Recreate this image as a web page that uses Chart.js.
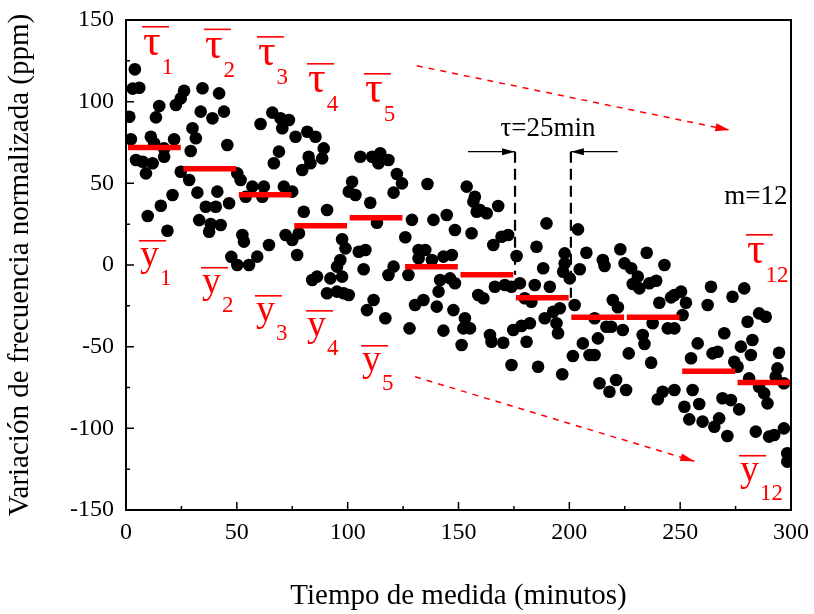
<!DOCTYPE html>
<html>
<head>
<meta charset="utf-8">
<script src="https://cdn.jsdelivr.net/npm/chart.js@4.4.0/dist/chart.umd.min.js"></script>
<style>
  html, body { margin: 0; padding: 0; background: #fff; }
  #wrap { width: 814px; height: 614px; }
</style>
</head>
<body>
<div id="wrap"><canvas id="chart" width="814" height="614"></canvas></div>
<script>
// ── Data ───────────────────────────────────────────────────────────────────────

// measured points: time (min) and frequency deviation (ppm)
const timeMin = [
  1.5, 2.2, 3, 4, 4.5, 6, 7.5, 9, 9.8, 11.2, 12, 12.7, 13.5, 15, 15.7, 17.2, 17.2, 18.7, 21, 21.7, 22.5, 24.7, 24.7,
  26.2, 28.5, 29.2, 30, 31.5, 32.2, 33, 33.7, 34.5, 36, 37.5, 38.2, 39, 40.5, 41.2, 42, 42.7, 44.2, 45.7, 46.5, 47.5,
  50.2, 50.2, 51.7, 52.5, 53.2, 54, 55.5, 57, 59.2, 60.7, 61.5, 62.2, 64.5, 66, 66.7, 69, 69.7, 70.5, 71.2, 72, 73.5,
  75, 75, 76.5, 77.2, 78, 79.5, 80.2, 81.8, 82.4, 83.2, 84, 85.5, 86.2, 88.5, 89.2, 90.7, 90.7, 92.2, 95.2, 95.2, 96.7, 97.5, 97.5, 98.2, 99,
  100.5, 100.5, 102, 103.5, 105, 105.7, 107.2, 108, 108.7, 110.2, 111, 111.7, 113.2, 113.9, 114.7, 117, 118.4, 118.4, 120.7, 120.7, 122.2, 124.5,
  126, 127.4, 127.9, 129, 130.4, 132, 132, 134.2, 135, 136, 138, 138.7, 140.2, 141, 141.7, 143.2, 143.2, 144.7, 146.2, 147, 147.7, 148.4, 148.4,
  151.4, 152.2, 152.9, 153.7, 155.2, 155.9, 156.7, 157.4, 158.2, 158.9, 159.7, 161.2, 162.7, 164.2, 164.9, 165.7, 166.4, 167.9, 169.4, 170.2, 170.9, 172.4, 173.9, 173.9, 174.7,
  176.2, 177.7, 178.4, 179.9, 180.7, 182.2, 182.9, 184.4, 185.2, 185.9, 188.2, 188.9, 189.7, 191.2, 192.7, 194.2, 194.9, 195.7, 196.8, 197.2, 197.9, 197.9,
  200.2, 201.6, 202.4, 203.9, 204.7, 206.1, 207.7, 209.1, 211.4, 211.4, 212.9, 213.6, 215.1, 215.9, 216.7, 218.1, 218.9, 219.6, 221.1, 221.9, 223, 224.1, 224.9,
  225.6, 226.8, 227.9, 228.6, 230.9, 231.6, 233.1, 233.9, 234.9, 236.1, 236.9, 237.6, 239.2, 239.9, 240.6, 242.1, 242.9, 244.4, 245.9, 247.4, 247.4, 247.4,
  250.4, 251.1, 251.9, 252.6, 254.1, 254.9, 255.6, 257.9, 258.6, 260.1, 262.4, 263.9, 264.6, 265.4, 266.9, 267.6, 269.1, 269.9, 271.3, 272.9, 273.6, 274.4,
  275.9, 276.6, 277.4, 278.9, 280.4, 281.1, 281.9, 282.6, 284.1, 285.6, 285.6, 287.9, 288.6, 289.4, 290.1, 292.4, 293.1, 293.9, 294.6, 296.8, 296.8, 298.3, 298.3
];
const freqPpm = [
  90.8, 77, 108, 119.8, 64.3, 108.5, 63.2, 56.1, 30, 78.5, 62.3, 74.5, 90.4, 97.3, 36.3, 71.4, 66.3, 21, 42.9, 77, 98, 102, 57.1,
  106.7, 52, 69.8, 83.7, 77.6, 44.3, 27.5, 93.9, 108.2, 35.7, 20.4, 25.1, 89.8, 35.7, 44.9, 105.1, 24.5, 93.9, 73.5, 37.8, 5,
  56.1, 0, 52, 18.4, 14.3, 41.8, 0, 48, 5.1, 86.3, 41.8, 48, 12.2, 93.3, 62.3, 69.4, 89.8, 83.7, 48, 18.4, 88.8,
  15.3, 44.9, 78.5, 6.1, 19.4, 58.2, 32.6, 81.6, 66.3, 62.3, -9.2, 78.5, -7.1, 65.3, 71.4, 33.7, -17.3, -8.2, -1, -16.3, 3.1, 15.8, -7.1, -17.3, 10.2,
  44.9, -18.4, 51, 42.9, 8.1, 66.3, -2.6, 9.2, -27.6, 38.1, 66.3, -21.4, 25.9, 62.3, 68.4, -32.6, 64.3, -6.1, 44.3, -1, 55.7, 50,
  17, -6.1, -38.8, 27.6, -24.5, 9.2, 4.1, -21.4, 9.2, 49.6, 3.1, 27.6, -25.5, -16.3, -9.2, 5.1, -40.2, 30.6, -8.2, 6.1, -27.6, 21.4, -11.2,
  -49, -38.8, -32.6, 48, -38.8, 19.4, 38.8, 41.8, 32.6, -18.4, 33.7, -20.4, 31.7, -42.9, -47, 12.2, -13.3, 36.1, 17.3, -47.6, -12.2, 18.4, -13.3, -61.2, -39.8,
  5.5, -11.2, -37.3, -20.4, -47, -35.7, -22.5, -12.2, 11.2, -62.3, -2, -32.6, 25.5, -13.3, -28.6, -35.7, -41.8, -26.5, -66.9, -4.1, 7.1, 1,
  -8.2, -55.7, -24.5, 21.8, -2.6, -48, 7.5, -55.1, -32.6, -55.1, -44.9, -72.4, 3.1, -0.6, -37.8, -77.6, -37.8, -21.4, -70.4, -25.9, 9.6, -39.8, 1,
  -76.5, -54.1, -2, -11.6, -7.1, -14.3, -42.9, -48.4, 7.5, -11.2, -59.8, -35.7, -9.6, -82.2, -23.1, -77.6, 0, -38.8, -19.8, -76.5, -18.4, -38.8,
  -16.3, -30.6, -86.8, -23.1, -94.5, -57.1, -76.5, -48, -85.1, -95.9, -24.5, -13.3, -54.1, -99, -53.1, -93.9, -81.6, -41.8, -104.7, -82.7, -19.4, -59.2,
  -62.3, -88.4, -50, -14.3, -34.7, -69.4, -55.1, -45.9, -102, -29.6, -74.5, -78.6, -31.7, -84.7, -105.1, -104.1, -68.4, -63.3, -53.7, -72.4, -100, -115.3, -120.4
];

// block averages (tau = 25 min, m = 12 blocks)
const blockLen   = 25;
const blockMeans = [72, 59, 43, 24, 29, -1, -6, -20, -32, -32, -65, -72];

// axis ticks
const xTicks = [0, 50, 100, 150, 200, 250, 300];
const yTicks = [-150, -100, -50, 0, 50, 100, 150];

// annotations (data units)
const trendUpper = [{ x: 131.2, y: 122 }, { x: 272.2, y: 82.6 }];
const trendLower = [{ x: 130.4, y: -68.4 }, { x: 256.4, y: -120.2 }];
const tauTop     = 69.4;
const tauArrows  = [[154.3, 175.5], [221.8, 200.7]];   // [from, tip]
const tauLabels  = [
  { g: 'τ', s: '1',  x: 7.7,   y: 128.6 },
  { g: 'τ', s: '2',  x: 35.6,  y: 127 },
  { g: 'τ', s: '3',  x: 59.5,  y: 122.4 },
  { g: 'τ', s: '4',  x: 82.1,  y: 105.9 },
  { g: 'τ', s: '5',  x: 107.8, y: 99.8 },
  { g: 'τ', s: '12', x: 280.1, y: 1.2 }
];
const yLabels = [
  { g: 'y', s: '1',  x: 6.3,   y: -0.6 },
  { g: 'y', s: '2',  x: 34.3,  y: -17.1 },
  { g: 'y', s: '3',  x: 58.6,  y: -34.3 },
  { g: 'y', s: '4',  x: 81.7,  y: -43.5 },
  { g: 'y', s: '5',  x: 106.5, y: -64.9 },
  { g: 'y', s: '12', x: 277,   y: -132.2 }
];

// ── Build datasets ─────────────────────────────────────────────────────────────

const RED   = '#ff0000';
const SERIF = '"Liberation Serif", "Times New Roman", serif';

const points = timeMin.map((t, i) => ({ x: t, y: freqPpm[i] }));

const meanBars = [];
blockMeans.forEach((m, k) => {
  const t0 = k * blockLen;
  meanBars.push({ x: t0 + 0.9, y: m }, { x: t0 + blockLen - 0.3, y: m }, { x: t0 + blockLen - 0.2, y: null });
});

const tauEdges = [
  { x: tauArrows[0][1], y: tauTop }, { x: tauArrows[0][1], y: blockMeans[6] }, { x: tauArrows[0][1], y: null },
  { x: tauArrows[1][1], y: tauTop }, { x: tauArrows[1][1], y: blockMeans[7] }
];

const arrowLines = [];
tauArrows.forEach(([a, b]) => arrowLines.push({ x: a, y: tauTop }, { x: b, y: tauTop }, { x: b, y: null }));

// ── Drawing helpers ────────────────────────────────────────────────────────────

function arrowHead(ctx, x0, y0, x1, y1, len, half, color) {
  const ang = Math.atan2(y1 - y0, x1 - x0);
  const c = Math.cos(ang), s = Math.sin(ang);
  ctx.fillStyle = color;
  ctx.beginPath();
  ctx.moveTo(x1, y1);
  ctx.lineTo(x1 - len * c + half * s, y1 - len * s - half * c);
  ctx.lineTo(x1 - len * c - half * s, y1 - len * s + half * c);
  ctx.closePath();
  ctx.fill();
}

function barLabel(ctx, lab, px, py) {
  const isTau = lab.g === 'τ';
  ctx.fillStyle = RED;
  ctx.textAlign = 'left';
  ctx.textBaseline = 'alphabetic';
  ctx.font = (isTau ? '44px ' : '38px ') + SERIF;
  const w = ctx.measureText(lab.g).width;
  ctx.fillText(lab.g, px, py);
  ctx.fillRect(px - 1, py - (isTau ? 29 : 26), 27, 1.6);
  ctx.font = '23px ' + SERIF;
  ctx.fillText(lab.s, px + w + 1, py + 19);
}

// scales must not push the plot box around with label overhang
function noOverhang(s) {
  s.paddingTop = 0; s.paddingBottom = 0; s.paddingLeft = 0; s.paddingRight = 0;
}

const annotate = {
  id: 'annotate',
  afterDatasetsDraw(chart) {
    const { ctx, chartArea: a, scales: { x, y } } = chart;
    ctx.save();

    // frame + inward ticks
    ctx.strokeStyle = '#000';
    ctx.lineWidth = 2;
    ctx.strokeRect(a.left, a.top, a.right - a.left, a.bottom - a.top);
    ctx.lineWidth = 1.5;
    ctx.beginPath();
    for (let v = 0; v <= 300; v += 25) {
      const px = x.getPixelForValue(v), len = v % 50 === 0 ? 8 : 4;
      ctx.moveTo(px, a.bottom); ctx.lineTo(px, a.bottom - len);
    }
    for (let v = -150; v <= 150; v += 25) {
      const py = y.getPixelForValue(v), len = v % 50 === 0 ? 8 : 4;
      ctx.moveTo(a.left, py); ctx.lineTo(a.left + len, py);
    }
    ctx.stroke();

    // arrow heads
    [trendUpper, trendLower].forEach(([p, q]) => {
      arrowHead(ctx, x.getPixelForValue(p.x), y.getPixelForValue(p.y),
                x.getPixelForValue(q.x), y.getPixelForValue(q.y), 14, 4, RED);
    });
    tauArrows.forEach(([a0, b0]) => {
      const py = y.getPixelForValue(tauTop);
      arrowHead(ctx, x.getPixelForValue(a0), py, x.getPixelForValue(b0), py, 13, 3.5, '#000');
    });

    // texts
    ctx.fillStyle = '#000';
    ctx.font = '27px ' + SERIF;
    ctx.textAlign = 'center';
    ctx.textBaseline = 'middle';
    ctx.fillText('τ=25min', x.getPixelForValue(190.4), y.getPixelForValue(83.3));
    ctx.fillText('m=12', x.getPixelForValue(284.2), y.getPixelForValue(41.6));

    tauLabels.concat(yLabels).forEach(l => barLabel(ctx, l, x.getPixelForValue(l.x), y.getPixelForValue(l.y)));

    ctx.restore();
  }
};

// ── Chart ──────────────────────────────────────────────────────────────────────

new Chart(document.getElementById('chart').getContext('2d'), {
  type: 'scatter',
  data: {
    datasets: [
      {
        label: 'Medias', data: meanBars, showLine: true, spanGaps: false,
        borderColor: RED, borderWidth: 5.5, borderCapStyle: 'butt', pointRadius: 0, order: 0
      },
      {
        label: 'tau', data: tauEdges, showLine: true, spanGaps: false,
        borderColor: '#000', borderWidth: 2.2, borderDash: [11, 6], pointRadius: 0, order: 1
      },
      {
        label: 'flechas', data: arrowLines, showLine: true, spanGaps: false,
        borderColor: '#000', borderWidth: 1.2, pointRadius: 0, order: 1
      },
      {
        label: 'Medidas', data: points, showLine: false,
        pointRadius: 6.3, pointBackgroundColor: '#000', pointBorderWidth: 0, order: 2, clip: 0
      },
      {
        label: 'tendencia sup', data: trendUpper, showLine: true,
        borderColor: RED, borderWidth: 1.5, borderDash: [6, 6], pointRadius: 0, order: 3
      },
      {
        label: 'tendencia inf', data: trendLower, showLine: true,
        borderColor: RED, borderWidth: 1.5, borderDash: [6, 6], pointRadius: 0, order: 3
      }
    ]
  },
  options: {
    responsive: false,
    animation: false,
    devicePixelRatio: 1,
    layout: { padding: { top: 20, right: 23, left: 0, bottom: 0 } },
    plugins: { legend: { display: false }, tooltip: { enabled: false } },
    scales: {
      x: {
        type: 'linear', min: 0, max: 300,
        afterFit: s => { s.height = 104; noOverhang(s); },
        afterBuildTicks: s => { s.ticks = xTicks.map(v => ({ value: v })); },
        grid: { display: false, drawTicks: false },
        border: { display: false },
        ticks: { color: '#000', font: { family: SERIF, size: 24 }, padding: 8, maxRotation: 0, autoSkip: false },
        title: {
          display: true, text: 'Tiempo de medida (minutos)', color: '#000',
          font: { family: SERIF, size: 29 }, padding: { top: 0, bottom: 0 }
        }
      },
      y: {
        type: 'linear', min: -150, max: 150,
        afterFit: s => { s.width = 126; noOverhang(s); },
        afterBuildTicks: s => { s.ticks = yTicks.map(v => ({ value: v })); },
        grid: { display: false, drawTicks: false },
        border: { display: false },
        ticks: { color: '#000', font: { family: SERIF, size: 24 }, padding: 12, autoSkip: false },
        title: {
          display: true, text: 'Variación de frecuencia normalizada (ppm)', color: '#000',
          font: { family: SERIF, size: 29 }, padding: { top: 3, bottom: 0 }
        }
      }
    }
  },
  plugins: [annotate]
});
</script>
</body>
</html>
